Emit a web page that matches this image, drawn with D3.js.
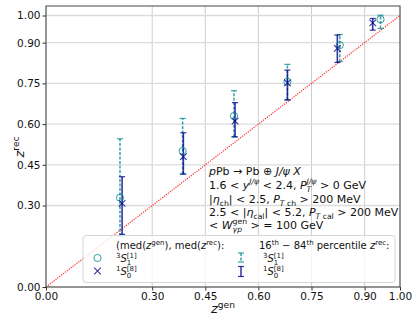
<!DOCTYPE html>
<html>
<head>
<meta charset="utf-8">
<script src="https://cdn.jsdelivr.net/npm/d3@7"></script>
<style>
body { margin: 0; background: #fff; }
text { font-family: "DejaVu Sans", sans-serif; fill: #111; }
</style>
</head>
<body>
<script>
var width = 416,
    height = 321;

// medians and 16-84 percentiles
var zgenS1 = [0.209, 0.386, 0.531, 0.682, 0.830, 0.945];
var zrecS1 = [0.329, 0.501, 0.630, 0.756, 0.891, 0.986];
var loS1 = [0.188, 0.416, 0.553, 0.689, 0.830, 0.952];
var hiS1 = [0.546, 0.621, 0.723, 0.820, 0.930, 1.001];

var zgenS0 = [0.215, 0.388, 0.534, 0.682, 0.823, 0.923];
var zrecS0 = [0.308, 0.480, 0.611, 0.752, 0.879, 0.973];
var loS0 = [0.194, 0.416, 0.553, 0.689, 0.827, 0.946];
var hiS0 = [0.406, 0.568, 0.679, 0.799, 0.928, 0.989];

var xTicks = [0, 0.30, 0.45, 0.60, 0.75, 0.90, 1.00];
var yTicks = [0, 0.30, 0.45, 0.60, 0.75, 0.90, 1.00];

var teal = "rgba(0,139,139,0.8)",
    blue = "rgba(0,0,139,0.8)";

var margin = {left: 46, right: 16, top: 6, bottom: 34};

var x = d3.scaleLinear().domain([0, 1]).range([margin.left, width - margin.right]);
var y = d3.scaleLinear().domain([0, 1.035]).range([height - margin.bottom, margin.top]);

var svg = d3.select("body").append("svg").attr("width", width).attr("height", height);

// grid
svg.append("g")
    .selectAll("line.vg")
    .data(xTicks)
    .enter().append("line")
    .attr("x1", d => x(d)).attr("x2", d => x(d))
    .attr("y1", y.range()[0]).attr("y2", y.range()[1])
    .attr("stroke", "#c8c8c8").attr("stroke-width", 0.9);
svg.append("g")
    .selectAll("line.hg")
    .data(yTicks)
    .enter().append("line")
    .attr("x1", x.range()[0]).attr("x2", x.range()[1])
    .attr("y1", d => y(d)).attr("y2", d => y(d))
    .attr("stroke", "#dcdcdc").attr("stroke-width", 1.4);

// diagonal z_rec = z_gen
svg.append("line")
    .attr("x1", x(0)).attr("y1", y(0))
    .attr("x2", x(1)).attr("y2", y(1))
    .attr("stroke", "#ff2a2a").attr("stroke-width", 1.2)
    .attr("stroke-dasharray", "1.2,1.2");

function errbars(gx, lo, hi, color, dash, w) {
    var g = svg.append("g");
    gx.forEach(function (v, i) {
        g.append("line")
            .attr("x1", x(v)).attr("x2", x(v))
            .attr("y1", y(lo[i])).attr("y2", y(hi[i]))
            .attr("stroke", color).attr("stroke-width", w)
            .attr("stroke-dasharray", dash);
        [lo[i], hi[i]].forEach(function (c) {
            g.append("line")
                .attr("x1", x(v) - 3).attr("x2", x(v) + 3)
                .attr("y1", y(c)).attr("y2", y(c))
                .attr("stroke", color).attr("stroke-width", 1.2);
        });
    });
}
errbars(zgenS1, loS1, hiS1, teal, "3,1.5", 1.5);
errbars(zgenS0, loS0, hiS0, blue, null, 1.6);

// markers
svg.append("g").selectAll("circle")
    .data(zgenS1)
    .enter().append("circle")
    .attr("cx", d => x(d))
    .attr("cy", (d, i) => y(zrecS1[i]))
    .attr("r", 3.6)
    .attr("fill", "none")
    .attr("stroke", teal).attr("stroke-width", 1);

function cross(sel, s) {
    return sel.attr("d", "M" + (-s) + "," + (-s) + "L" + s + "," + s + "M" + (-s) + "," + s + "L" + s + "," + (-s));
}
svg.append("g").selectAll("path")
    .data(zgenS0)
    .enter().append("path")
    .attr("transform", (d, i) => "translate(" + x(d) + "," + y(zrecS0[i]) + ")")
    .call(cross, 3.3)
    .attr("stroke", blue).attr("stroke-width", 1.1);

// axes
var xAxis = svg.append("g")
    .attr("transform", "translate(0," + y(0) + ")")
    .call(d3.axisBottom(x).tickValues(xTicks).tickFormat(d3.format(".2f")).tickSize(3.5).tickPadding(2));
var yAxis = svg.append("g")
    .attr("transform", "translate(" + x(0) + ",0)")
    .call(d3.axisLeft(y).tickValues(yTicks).tickFormat(d3.format(".2f")).tickSize(3.5).tickPadding(2));
[xAxis, yAxis].forEach(function (a) {
    a.select(".domain").remove();
    a.selectAll("line").attr("stroke", "#333");
    a.selectAll("text").attr("font-size", 10.5).attr("font-family", "DejaVu Sans").attr("fill", "#111");
});

// frame
svg.append("rect")
    .attr("x", x.range()[0]).attr("y", y.range()[1])
    .attr("width", x.range()[1] - x.range()[0])
    .attr("height", y.range()[0] - y.range()[1])
    .attr("fill", "none").attr("stroke", "#444").attr("stroke-width", 1);

// rich text: parts = [text, mode, italic]; mode "sup", "sub", "stk" (sub stacked under previous sup), "pre" (leading superscript)
function rich(parent, px, py, parts, size) {
    var t = parent.append("text").attr("x", px).attr("y", py).attr("font-size", size);
    var shift = 0, lastSup = null, extra = 0;
    parts.forEach(function (p) {
        var mode = p[1] || "", it = p[2];
        var target = mode === "sup" || mode === "pre" ? -0.42 * size : (mode === "sub" || mode === "stk") ? 0.25 * size : 0;
        var sp = t.append("tspan")
            .attr("dy", target - shift)
            .attr("font-size", mode ? size * 0.7 : size)
            .attr("font-style", it ? "italic" : "normal")
            .text(p[0]);
        if (extra > 0) sp.attr("dx", extra);
        extra = 0;
        if (mode === "stk" && lastSup) {
            var supW = lastSup.node().getComputedTextLength();
            sp.attr("dx", -supW);
            extra = supW - sp.node().getComputedTextLength();
        }
        lastSup = mode === "sup" ? sp : null;
        shift = target;
    });
    return t;
}

// annotation
var note = svg.append("g");
var fs = 11, nx = 209;
rich(note, nx, 175, [["p", "", true], ["Pb \u2192 Pb \u2295 "], ["J/\u03c8", "", true], [" "], ["X", "", true]], fs);
rich(note, nx, 189, [["1.6 < "], ["y", "", true], ["J/\u03c8", "sup", true], [" < 2.4, ", ""], ["P", "", true], ["J/\u03c8", "sup", true], ["T", "stk", true], [" > 0 GeV"]], fs);
rich(note, nx, 203, [["|"], ["\u03b7", "", true], ["ch", "sub"], ["| < 2.5, "], ["P", "", true], ["T", "sub", true], [" ch", "sub"], [" > 200 MeV"]], fs);
rich(note, nx, 216, [["2.5 < |"], ["\u03b7", "", true], ["cal", "sub"], ["| < 5.2, "], ["P", "", true], ["T", "sub", true], [" cal", "sub"], [" > 200 MeV"]], fs);
rich(note, nx, 229, [["< "], ["W", "", true], ["gen", "sup"], ["\u03b3p", "stk", true], [" > = 100 GeV"]], fs);

// legend
var leg = svg.append("g");
leg.append("rect")
    .attr("x", 83).attr("y", 235.5).attr("width", 312).attr("height", 47)
    .attr("rx", 3)
    .attr("fill", "rgba(255,255,255,0.8)")
    .attr("stroke", "#d6d6d6").attr("stroke-width", 1);
var lf = 10;
rich(leg, 116, 249, [["(med("], ["z", "", true], ["gen", "sup"], ["), med("], ["z", "", true], ["rec", "sup"], ["):"]], lf);
rich(leg, 116, 262, [["3", "pre"], ["S", "", true], ["[1]", "sup"], ["1", "stk"]], lf);
rich(leg, 116, 275, [["1", "pre"], ["S", "", true], ["[8]", "sup"], ["0", "stk"]], lf);
leg.append("circle").attr("cx", 97.5).attr("cy", 258).attr("r", 3.6)
    .attr("fill", "none").attr("stroke", teal).attr("stroke-width", 1);
leg.append("path").attr("transform", "translate(97.5,271)").call(cross, 3.3)
    .attr("stroke", blue).attr("stroke-width", 1.1);

rich(leg, 259, 249, [["16"], ["th", "sup"], [" \u2212 84"], ["th", "sup"], [" percentile "], ["z", "", true], ["rec", "sup"], [":"]], lf);
rich(leg, 263, 262, [["3", "pre"], ["S", "", true], ["[1]", "sup"], ["1", "stk"]], lf);
rich(leg, 263, 275, [["1", "pre"], ["S", "", true], ["[8]", "sup"], ["0", "stk"]], lf);
[[253, 262, teal, "3,1.5"], [266.5, 276.5, blue, null]].forEach(function (e) {
    leg.append("line").attr("x1", 241).attr("x2", 241).attr("y1", e[0]).attr("y2", e[1])
        .attr("stroke", e[2]).attr("stroke-width", 1.5).attr("stroke-dasharray", e[3]);
    [e[0], e[1]].forEach(function (c) {
        leg.append("line").attr("x1", 238).attr("x2", 244).attr("y1", c).attr("y2", c)
            .attr("stroke", e[2]).attr("stroke-width", 1.2);
    });
});

// axis labels
rich(svg, 223, 313, [["z", "", true], ["gen", "sup"]], 13).attr("text-anchor", "middle");
rich(svg.append("g").attr("transform", "translate(24,147) rotate(-90)"), 0, 0, [["z", "", true], ["rec", "sup"]], 13)
    .attr("text-anchor", "middle");
</script>
</body>
</html>
